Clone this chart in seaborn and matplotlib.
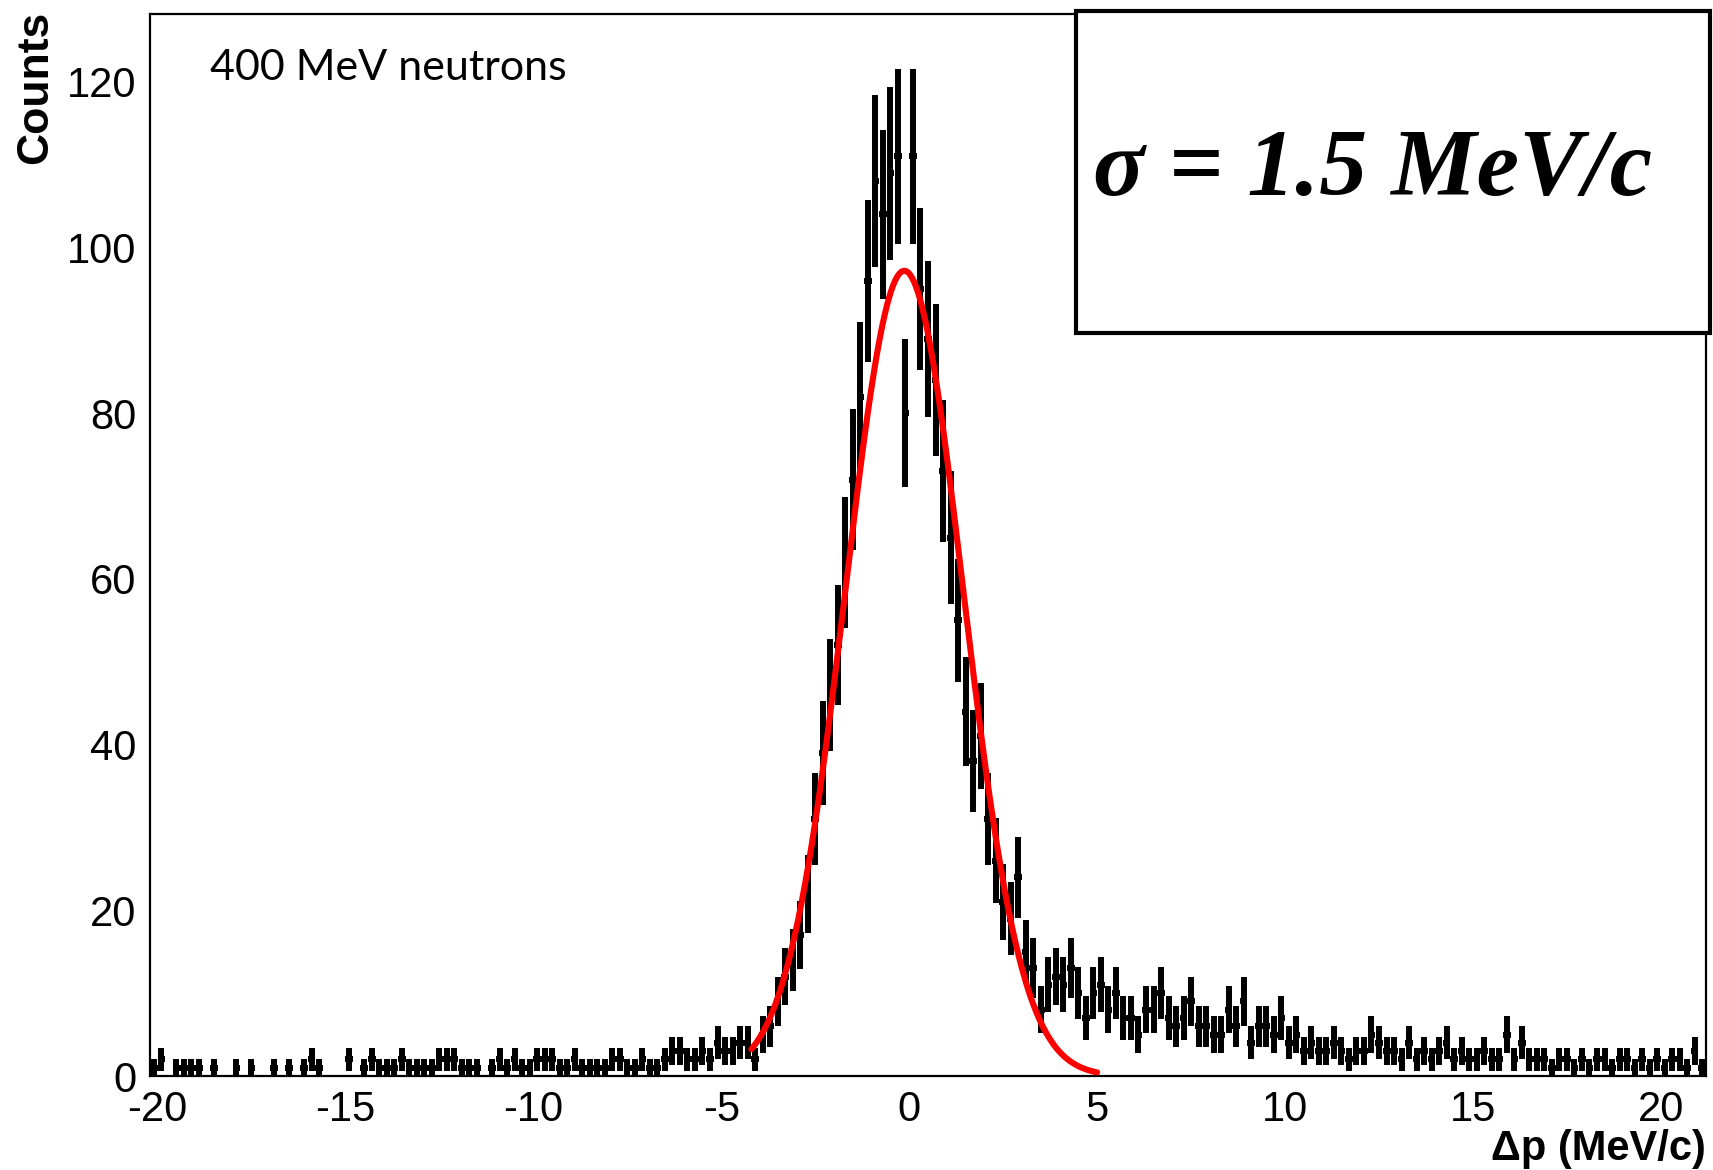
import numpy as np
import matplotlib
matplotlib.use("Agg")
import matplotlib.pyplot as plt
import seaborn as sns
from matplotlib.patches import Rectangle
from matplotlib.ticker import MultipleLocator

# ---------------- data ----------------
first_center = -20.1      # MeV/c, centre of first bin
bin_width = 0.2           # MeV/c

# counts, bins centred at -20.1 ... -5.1
left_counts = [1, 2, 0, 1, 1, 1, 1, 0, 1, 0,
               0, 1, 0, 1, 0, 0, 1, 0, 1, 0,
               1, 2, 1, 0, 0, 0, 2, 0, 1, 2,
               1, 1, 1, 2, 1, 1, 1, 1, 2, 2,
               2, 1, 1, 1, 0, 1, 2, 1, 2, 1,
               1, 2, 2, 2, 1, 1, 2, 1, 1, 1,
               1, 2, 2, 1, 1, 2, 1, 1, 2, 3,
               3, 2, 2, 3, 2, 4]
# counts, bins centred at -4.9 ... 4.9
core_counts = [3, 3, 4, 4, 2, 5, 6, 9, 12, 14,
               17, 22, 31, 39, 46, 52, 62, 72, 82, 96,
               108, 104, 109, 111, 80, 111, 95, 89, 84, 73,
               65, 55, 44, 38, 41, 31, 26, 21, 19, 24,
               15, 13, 8, 11, 12, 11, 13, 10, 7, 10]
# counts, bins centred at 5.1 ... 21.1
right_counts = [11, 8, 10, 7, 7, 5, 8, 8, 10, 7,
                6, 7, 9, 6, 6, 5, 5, 8, 6, 9,
                4, 6, 6, 5, 7, 4, 5, 3, 4, 3,
                3, 4, 3, 2, 3, 3, 5, 4, 3, 3,
                2, 4, 2, 3, 2, 3, 4, 2, 3, 2,
                2, 3, 2, 2, 5, 2, 4, 2, 2, 2,
                1, 2, 2, 1, 2, 1, 2, 2, 1, 2,
                2, 1, 2, 1, 2, 1, 2, 2, 1, 3,
                1]

# Gaussian fit parameters
fit_amplitude = 97.2
fit_mean = -0.13
fit_sigma = 1.56
fit_range = (-4.2, 5.0)

x_limits = (-20.2, 21.2)
y_limits = (0, 128.2)
x_ticks = [-20, -15, -10, -5, 0, 5, 10, 15, 20]
y_ticks = [0, 20, 40, 60, 80, 100, 120]

# ---------------- build ----------------
counts = np.array(left_counts + core_counts + right_counts, dtype=float)
centers = first_center + bin_width * np.arange(len(counts))
mask = counts > 0

sns.set_theme(style="white")
plt.rcParams["font.family"] = ["Liberation Sans", "DejaVu Sans"]
plt.rcParams["axes.unicode_minus"] = False
plt.rcParams["text.color"] = "black"
plt.rcParams["axes.labelcolor"] = "black"
plt.rcParams["xtick.color"] = "black"
plt.rcParams["ytick.color"] = "black"

W, H = 1713, 1170
fig = plt.figure(figsize=(W / 100, H / 100), dpi=100)
ax = fig.add_axes([150 / W, 1 - 1076 / H, (1706 - 150) / W, (1076 - 14) / H])

ax.errorbar(centers[mask], counts[mask], xerr=bin_width / 2,
            yerr=np.sqrt(counts[mask]), fmt="none", ecolor="black",
            elinewidth=4.3, capsize=0, zorder=2)

fit_x = np.linspace(fit_range[0], fit_range[1], 400)
fit_y = fit_amplitude * np.exp(-0.5 * ((fit_x - fit_mean) / fit_sigma) ** 2)
sns.lineplot(x=fit_x, y=fit_y, color="red", linewidth=4.4, ax=ax, zorder=3)

ax.set_xlim(*x_limits)
ax.set_ylim(*y_limits)
ax.set_xticks(x_ticks)
ax.set_yticks(y_ticks)
ax.xaxis.set_minor_locator(MultipleLocator(1))
ax.yaxis.set_minor_locator(MultipleLocator(5))
ax.tick_params(axis="both", which="both", direction="in", top=False,
               right=False, color="black", width=1.5, labelsize=30,
               labelcolor="black")
ax.tick_params(axis="x", which="major", length=23, pad=10)
ax.tick_params(axis="x", which="minor", length=11)
ax.tick_params(axis="y", which="major", length=31, pad=10)
ax.tick_params(axis="y", which="minor", length=16)
for s in ax.spines.values():
    s.set_color("black")
    s.set_linewidth(1.6)
ax.set_xlabel("")
ax.set_ylabel("")

fig.text(36 / W, 1 - 11 / H, "Counts", rotation=90, ha="center", va="top",
         fontsize=32, fontweight="bold", color="black")
fig.text(1706 / W, 1 - 1149 / H, "Δp (MeV/c)", ha="right", va="center",
         fontsize=30, fontweight="bold", color="black")
fig.text(210 / W, 1 - 68 / H, "400 MeV neutrons", ha="left", va="center",
         fontsize=31, family=["Lato", "DejaVu Sans"], color="black")

box = Rectangle((1076 / W, 1 - 333 / H), (1710 - 1076) / W, (333 - 11) / H,
                transform=fig.transFigure, facecolor="white",
                edgecolor="black", linewidth=3, zorder=5)
fig.add_artist(box)
fig.text(1093 / W, 1 - 172 / H, "σ = 1.5 MeV/c", ha="left", va="center",
         fontsize=69, fontweight="bold", fontstyle="italic", color="black",
         family=["Liberation Serif", "DejaVu Serif"], zorder=6)

fig.savefig("out.png", dpi=100, facecolor="white")
